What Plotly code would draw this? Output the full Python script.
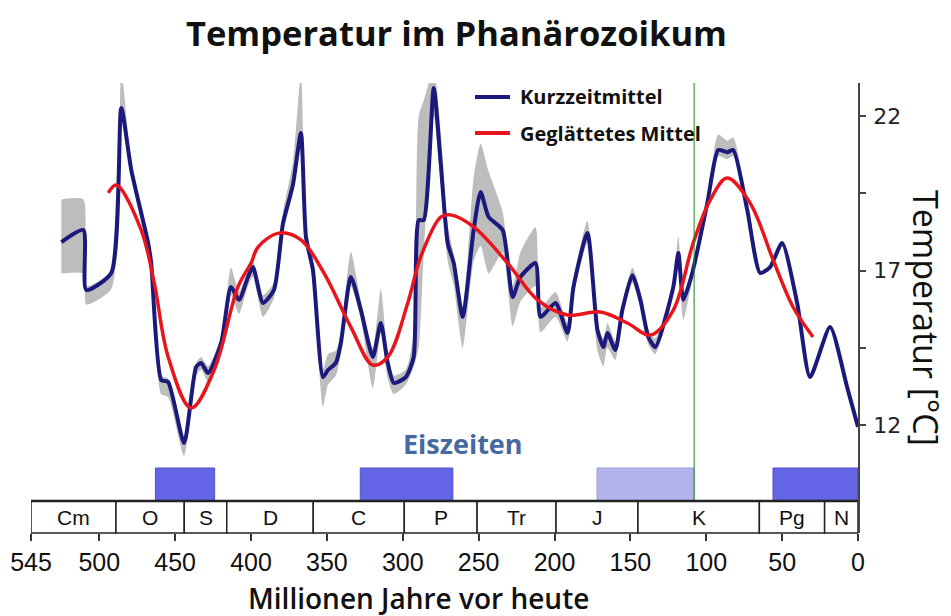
import plotly.graph_objects as go

# ---------------- data ----------------
# Kurzzeitmittel (short-term mean), ages in Ma, temperatures in °C
short_age = [525.0, 510.5, 508.6, 492.1, 485.5, 478.9, 467.8, 465.8, 459.2, 454.6,
             444.1, 436.2, 432.9, 428.3, 419.7, 413.2, 407.9, 402.0, 398.7, 392.1,
             384.9, 378.9, 372.4, 367.1, 363.8, 359.2, 352.6, 349.3, 344.1, 340.8,
             334.2, 327.6, 319.7, 314.5, 309.9, 305.9, 298.0, 292.8, 289.5, 286.2,
             279.6, 275.0, 270.4, 266.4, 260.5, 253.3, 248.7, 243.4, 234.2, 227.6,
             222.4, 212.5, 209.2, 199.3, 191.4, 187.5, 178.3, 171.7, 167.8, 165.1,
             159.9, 155.3, 148.7, 143.4, 138.2, 133.6, 121.7, 118.4, 115.1, 109.2,
             99.3, 92.1, 86.2, 82.2, 73.0, 64.5, 57.9, 50.0, 40.1, 31.6,
             18.4, 7.2, 0.0]
short_temp = [17.92, 18.31, 16.37, 16.92, 22.26, 20.25, 17.89, 17.24, 13.46, 13.39,
              11.42, 13.88, 14.01, 13.68, 14.65, 16.47, 16.05, 16.79, 17.11, 15.95,
              16.37, 18.54, 19.77, 21.45, 18.08, 17.02, 13.55, 13.78, 14.01, 14.65,
              16.79, 15.72, 14.20, 15.30, 14.01, 13.36, 13.55, 14.20, 18.63, 18.63,
              22.91, 20.48, 17.89, 17.24, 15.50, 18.31, 19.54, 18.73, 18.31, 16.14,
              16.79, 17.24, 15.50, 15.95, 14.98, 16.47, 18.21, 15.07, 14.52, 14.98,
              14.43, 15.72, 16.85, 16.05, 14.85, 14.52, 16.47, 17.57, 16.05, 16.92,
              19.18, 20.90, 20.83, 20.90, 18.96, 16.92, 17.11, 17.89, 15.95, 13.55,
              15.17, 13.23, 11.94]
# uncertainty band (grey)
band_low = [16.9, 16.9, 15.9, 16.4, 22.0, 20.0, 17.6, 17.0, 13.0, 12.9,
            11.0, 13.6, 13.8, 13.4, 14.4, 16.2, 15.6, 16.5, 16.8, 15.5,
            16.1, 18.2, 19.5, 21.2, 17.8, 16.7, 12.6, 13.3, 13.6, 14.3,
            16.5, 15.4, 13.2, 15.0, 13.5, 13.0, 13.3, 13.9, 14.5, 17.5,
            22.0, 19.8, 17.3, 16.5, 14.5, 17.3, 17.8, 16.9, 17.6, 15.2,
            16.0, 16.5, 15.0, 15.5, 14.7, 16.2, 17.9, 14.4, 13.9, 14.5,
            14.1, 15.5, 16.6, 15.8, 14.6, 14.3, 16.2, 17.2, 15.4, 16.7,
            19.0, 20.7, 20.6, 20.7, 18.9]
band_high = [19.3, 19.3, 16.5, 17.0, 23.4, 20.5, 18.1, 17.4, 13.6, 13.5,
             11.6, 14.0, 14.2, 13.9, 14.9, 17.1, 16.3, 17.0, 17.3, 16.2,
             16.6, 18.9, 20.5, 23.4, 18.4, 17.3, 13.8, 14.3, 14.4, 15.0,
             17.6, 16.0, 14.5, 16.4, 14.3, 13.6, 13.8, 15.0, 22.0, 22.5,
             23.5, 21.5, 18.5, 17.5, 15.8, 20.0, 21.1, 20.2, 18.9, 16.5,
             17.6, 18.4, 15.8, 16.3, 15.3, 16.7, 18.6, 15.3, 14.8, 15.3,
             14.7, 15.9, 17.1, 16.3, 15.1, 14.8, 16.7, 18.1, 16.3, 17.1,
             19.4, 21.4, 21.2, 21.3, 19.0]

# Geglättetes Mittel (smoothed mean)
smooth_age = [494.1, 488.8, 472.4, 463.8, 454.6, 439.5, 424.3, 408.6, 400.0, 395.4,
              381.6, 367.1, 352.0, 334.2, 319.7, 309.9, 296.7, 288.2, 275.0, 268.4,
              253.3, 230.9, 211.2, 191.4, 169.7, 152.0, 136.8, 121.7, 108.6, 97.4,
              86.2, 71.1, 55.9, 42.8, 29.6]
smooth_temp = [19.51, 19.77, 18.31, 16.60, 14.20, 12.55, 13.78, 16.47, 17.24, 17.76,
               18.21, 17.99, 16.92, 15.17, 13.94, 14.20, 15.95, 17.44, 18.73, 18.80,
               18.41, 17.24, 16.05, 15.56, 15.66, 15.30, 14.91, 15.72, 17.89, 19.28,
               19.99, 19.18, 17.34, 15.82, 14.85]

# geological periods (start age, end age, label)
period_start = [545, 489, 444, 416, 359, 299, 251, 199, 145, 65, 22]
period_end = [489, 444, 416, 359, 299, 251, 199, 145, 65, 22, 0]
period_label = ["Cm", "O", "S", "D", "C", "P", "Tr", "J", "K", "Pg", "N"]

# ice ages (start, end, intensity)
ice_start = [463, 328, 172, 56]
ice_end = [424, 267, 108, 0]
ice_strong = [True, True, False, True]

marker_age = 108  # green vertical line

x_ticks = [545, 500, 450, 400, 350, 300, 250, 200, 150, 100, 50, 0]
y_ticks = [12, 14.5, 17, 19.5, 22]
y_ticktext = ["12", "", "17", "", "22"]

# ---------------- figure ----------------
BLUE = "#1b1a7c"
RED = "#e8161c"
GREY = "#bdbdbd"

fig = go.Figure()

n_band = len(band_low)
fig.add_trace(go.Scatter(x=short_age[:n_band], y=band_low, mode="lines",
                         line=dict(width=0, shape="spline", smoothing=0.6, color=GREY),
                         showlegend=False, hoverinfo="skip"))
fig.add_trace(go.Scatter(x=short_age[:n_band], y=band_high, mode="lines",
                         line=dict(width=0, shape="spline", smoothing=0.6, color=GREY),
                         fill="tonexty", fillcolor=GREY,
                         showlegend=False, hoverinfo="skip"))
fig.add_trace(go.Scatter(x=short_age, y=short_temp, mode="lines", name="Kurzzeitmittel",
                         line=dict(color=BLUE, width=4, shape="spline", smoothing=0.6),
                         showlegend=False))
fig.add_trace(go.Scatter(x=smooth_age, y=smooth_temp, mode="lines", name="Geglättetes Mittel",
                         line=dict(color=RED, width=3.5, shape="spline", smoothing=1.0),
                         showlegend=False))

# plot area in page pixels: x 31..858, y 83..533 (page has an 8px body margin)
def px(xp):
    return (xp - 31) / 827

def py(yp):
    return (533 - yp) / 450

shapes = []
# green marker line
shapes.append(dict(type="line", xref="x", yref="paper", x0=marker_age, x1=marker_age,
                   y0=py(501), y1=1.0, line=dict(color="#1a8a1a", width=1)))
# ice age bars
for s, e, strong in zip(ice_start, ice_end, ice_strong):
    shapes.append(dict(type="rect", xref="x", yref="paper", x0=s, x1=e, y0=py(501), y1=py(468),
                       fillcolor="#6464e6" if strong else "#b4b4ec",
                       line=dict(color="#5050c8" if strong else "#9a9ad8", width=1), layer="below"))
# period boxes
annotations = []
for s, e, lab in zip(period_start, period_end, period_label):
    shapes.append(dict(type="rect", xref="x", yref="paper", x0=s, x1=e, y0=0.0, y1=py(501),
                       fillcolor="white", line=dict(color="#222222", width=1.5)))
    annotations.append(dict(x=(s + e) / 2, y=py(517), xref="x", yref="paper", text=lab,
                            showarrow=False, font=dict(family="Liberation Sans", size=21, color="#111111"),
                            xanchor="center", yanchor="middle"))
# top line of the period box slightly thicker
shapes.append(dict(type="line", xref="x", yref="paper", x0=545, x1=-5, y0=py(501), y1=py(501),
                   line=dict(color="#222222", width=2.5)))

# legend (manual)
shapes.append(dict(type="line", xref="paper", yref="paper",
                   x0=px(475), x1=px(510), y0=py(97), y1=py(97),
                   line=dict(color=BLUE, width=4)))
shapes.append(dict(type="line", xref="paper", yref="paper",
                   x0=px(475), x1=px(510), y0=py(133), y1=py(133),
                   line=dict(color=RED, width=4)))
annotations.append(dict(x=px(518), y=py(97), xref="paper", yref="paper",
                        text="<b>Kurzzeitmittel</b>", showarrow=False, xanchor="left", yanchor="middle",
                        font=dict(family="Open Sans", size=20, color="#111111")))
annotations.append(dict(x=px(518), y=py(133), xref="paper", yref="paper",
                        text="<b>Geglättetes Mittel</b>", showarrow=False, xanchor="left", yanchor="middle",
                        font=dict(family="Open Sans", size=20, color="#111111")))

# Eiszeiten
annotations.append(dict(x=px(463), y=py(443), xref="paper", yref="paper",
                        text="<b>Eiszeiten</b>", showarrow=False, xanchor="center", yanchor="middle",
                        font=dict(family="Open Sans", size=27, color="#46699f")))
# title
annotations.append(dict(x=px(456), y=py(33), xref="paper", yref="paper",
                        text="<b>Temperatur im Phanärozoikum</b>", showarrow=False,
                        xanchor="center", yanchor="middle",
                        font=dict(family="Open Sans", size=34.5, color="#111111")))
# x axis title
annotations.append(dict(x=px(418), y=py(598), xref="paper", yref="paper",
                        text="Millionen Jahre vor heute", showarrow=False,
                        xanchor="center", yanchor="middle",
                        font=dict(family="Open Sans", size=28, color="#111111", weight=600)))
# y axis title
annotations.append(dict(x=px(926), y=py(318), xref="paper", yref="paper",
                        text="Temperatur [°C]", showarrow=False, textangle=90,
                        xanchor="center", yanchor="middle",
                        font=dict(family="Open Sans", size=34, color="#111111")))

fig.update_layout(
    width=943, height=608,
    margin=dict(l=23, r=93, t=75, b=83, pad=0, autoexpand=False),
    paper_bgcolor="white", plot_bgcolor="white",
    showlegend=False,
    shapes=shapes, annotations=annotations,
    xaxis=dict(range=[545, 0], tickvals=x_ticks, ticks="outside", ticklen=7, tickwidth=1.5,
               tickcolor="#333333", showgrid=False, zeroline=False, showline=False,
               automargin=False,
               tickfont=dict(family="Liberation Sans", size=25, color="#111111")),
    yaxis=dict(range=[8.505, 23.068], side="right", tickvals=y_ticks, ticktext=y_ticktext,
               ticks="outside", ticklen=6, tickwidth=1.5, tickcolor="#444444",
               showgrid=False, zeroline=False, showline=True, linecolor="#444444", linewidth=1.5,
               automargin=False, ticklabelstandoff=3,
               tickfont=dict(family="DejaVu Sans", size=22, color="#222222")),
)

fig.write_html("out.html")
